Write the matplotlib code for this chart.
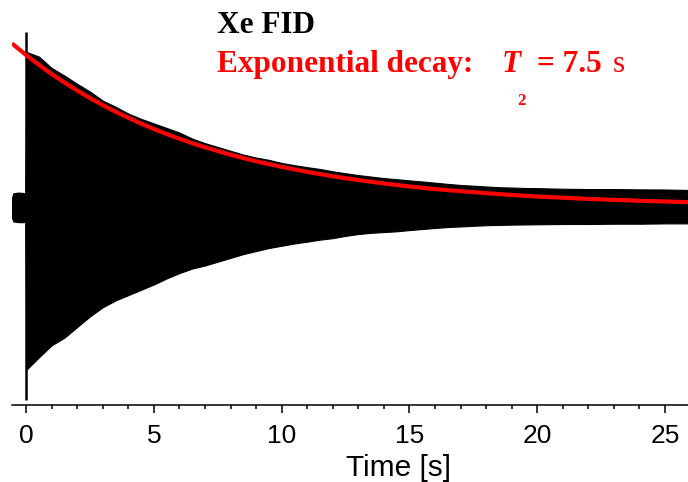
import matplotlib
matplotlib.use("Agg")
import matplotlib.pyplot as plt
from matplotlib.ticker import MultipleLocator

RED = "#FF0000"
SERIF = ["Liberation Serif", "DejaVu Serif"]
SANS = ["Liberation Sans", "DejaVu Sans"]

# FID envelope (signal in units of the t=0 amplitude)
env_t = [-0.55, -0.5, -0.3, -0.1, -0.03, 0.02, 0.5, 1.0, 1.5, 2.0, 2.5, 3.0, 3.5,
         4.0, 4.5, 5.0, 5.5, 6.0, 6.5, 7.0, 7.5, 8.0, 8.5, 9.0, 9.5, 10.0,
         10.5, 11.0, 11.5, 12.0, 12.5, 13.0, 13.5, 14.0, 14.5, 15.0, 15.5,
         16.0, 16.5, 17.0, 17.5, 18.0, 18.5, 19.0, 19.5, 20.0, 21.0, 22.0,
         23.0, 24.0, 25.0, 25.9]
env_hi = [0.06, 0.09, 0.095, 0.092, 0.085, 1.02, 0.99, 0.915, 0.865, 0.81, 0.76,
          0.70, 0.66, 0.615, 0.58, 0.55, 0.52, 0.49, 0.45, 0.42, 0.395, 0.37,
          0.345, 0.325, 0.31, 0.29, 0.275, 0.262, 0.25, 0.235, 0.222, 0.21,
          0.20, 0.19, 0.183, 0.175, 0.168, 0.16, 0.152, 0.145, 0.14, 0.135,
          0.13, 0.128, 0.125, 0.124, 0.12, 0.118, 0.118, 0.116, 0.115, 0.112]
env_lo = [-0.07, -0.095, -0.1, -0.1, -0.095, -1.07, -0.99, -0.91, -0.86, -0.79,
          -0.72, -0.66, -0.615, -0.58, -0.545, -0.51, -0.47, -0.435, -0.405,
          -0.385, -0.36, -0.335, -0.31, -0.29, -0.27, -0.255, -0.24, -0.228,
          -0.215, -0.205, -0.19, -0.178, -0.17, -0.165, -0.16, -0.152, -0.145,
          -0.138, -0.132, -0.128, -0.124, -0.12, -0.118, -0.116, -0.115,
          -0.114, -0.112, -0.112, -0.11, -0.11, -0.108, -0.108]

# initial spike at t = 0
spike_t = 0.0
spike_hi = 1.15
spike_lo = -1.27

# exponential fit (T2 = 7.5 s)
fit_t = [-0.55, 0, 0.5, 1, 1.5, 2, 2.5, 3, 3.5, 4, 4.5, 5, 5.5, 6, 6.5, 7, 7.5,
         8, 8.5, 9, 9.5, 10, 11, 12, 13, 14, 15, 16, 17, 18, 19, 20, 21, 22,
         23, 24, 25, 25.9]
fit_y = [1.076, 1.0, 0.936, 0.875, 0.819, 0.766, 0.717, 0.670, 0.627, 0.587,
         0.549, 0.513, 0.480, 0.449, 0.420, 0.393, 0.368, 0.344, 0.322, 0.301,
         0.282, 0.264, 0.231, 0.202, 0.177, 0.155, 0.135, 0.118, 0.104, 0.091,
         0.079, 0.069, 0.061, 0.053, 0.047, 0.041, 0.036, 0.032]

W, H = 688, 482
fig = plt.figure(figsize=(W / 100, H / 100), dpi=100)
ax = fig.add_axes([12 / W, (H - 405) / H, 676 / W, 405 / H])

ax.fill_between(env_t, env_lo, env_hi, color="black", edgecolor="black",
                linewidth=0.8, zorder=2)
ax.vlines(spike_t, spike_lo, spike_hi, color="black", linewidth=1.8, zorder=2)
ax.plot(fit_t, fit_y, color=RED, linewidth=3, zorder=3, solid_capstyle="butt")

ax.set_xlim(-0.55, 25.9)
ax.set_ylim(-1.303, 1.362)
for s in ("top", "right", "left"):
    ax.spines[s].set_visible(False)
ax.spines["bottom"].set_linewidth(1.1)
ax.set_yticks([])
ax.xaxis.set_major_locator(MultipleLocator(5))
ax.xaxis.set_minor_locator(MultipleLocator(1))
ax.tick_params(axis="x", which="major", direction="out", length=5.4, width=1.1,
               pad=8, labelsize=19)
ax.tick_params(axis="x", which="minor", direction="out", length=3, width=1.1)
for lab in ax.get_xticklabels():
    lab.set_family(SANS)

ax.set_xlabel("Time [s]", fontsize=21.5, family=SANS)
ax.xaxis.label.set_va("baseline")
ax.xaxis.set_label_coords((398 - 12) / 676, (405 - 476) / 405)


def px(x, y):
    return x / W, 1 - y / H


fig.text(*px(217, 33), "Xe FID", fontsize=22.5, fontweight="bold",
         family=SERIF, va="baseline", color="black")
fig.text(*px(217, 72), "Exponential decay:", fontsize=22.5, fontweight="bold",
         family=SERIF, va="baseline", color=RED)
fig.text(*px(502, 72), "T", fontsize=22.5, fontweight="bold", style="italic",
         family=SERIF, va="baseline", color=RED)
fig.text(*px(517, 105), "2", fontsize=12, fontweight="bold",
         family=SERIF, va="baseline", color=RED)
fig.text(*px(537, 72), "= 7.5", fontsize=22.5, fontweight="bold",
         family=SERIF, va="baseline", color=RED)
fig.text(*px(613, 72), "s", fontsize=22.5, family=SERIF, va="baseline",
         color=RED)

fig.savefig("out.png", dpi=100, facecolor="white")
